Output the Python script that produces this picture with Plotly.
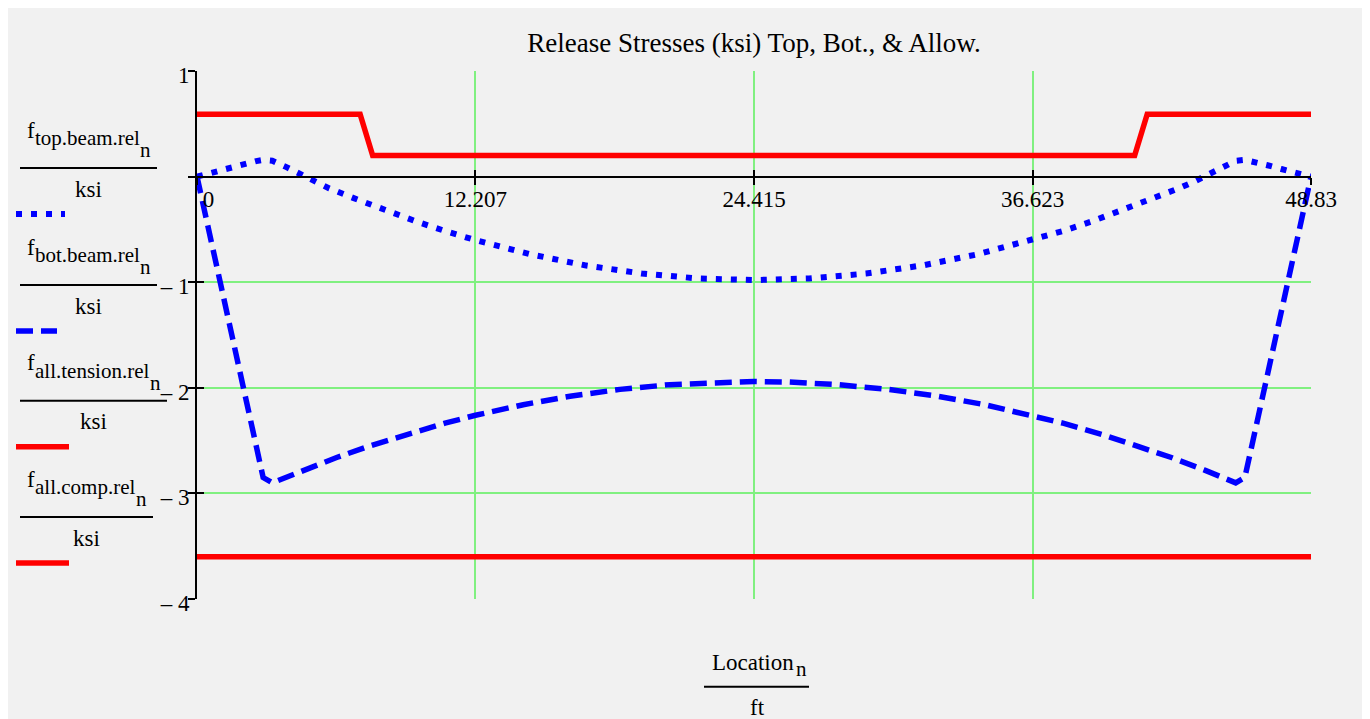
import plotly.graph_objects as go

# ---------------- data ----------------
x_top = [0, 0.65, 1.3, 1.95, 2.6, 2.9, 3.3, 3.9, 4.5, 5.1, 5.8, 7.0, 8.3, 9.6, 10.9, 12.207,
         14.6, 17.0, 19.5, 22.0, 24.415,
         26.83, 29.33, 31.83, 34.23, 36.623, 37.93, 39.23, 40.53, 41.83, 43.03, 43.73,
         44.33, 44.93, 45.53, 45.93, 46.23, 46.88, 47.53, 48.18, 48.83]
f_top = [0, 0.04, 0.072, 0.11, 0.147, 0.158, 0.15, 0.092, 0.024, -0.045, -0.112, -0.215,
         -0.322, -0.424, -0.517, -0.602, -0.735, -0.84, -0.918, -0.965, -0.98,
         -0.965, -0.918, -0.84, -0.735, -0.602, -0.517, -0.424, -0.322, -0.215, -0.112,
         -0.045, 0.024, 0.092, 0.15, 0.158, 0.147, 0.11, 0.072, 0.04, 0]

x_bot = [0, 2.9, 3.3, 4.66, 6.12, 7.44, 9.04, 10.87, 12.207, 14.3, 16.35, 18.54, 20.73,
         22.93, 24.415, 25.90, 28.10, 30.29, 32.48, 34.53, 36.623, 37.96, 39.79, 41.39,
         42.71, 44.17, 45.53, 45.93, 48.83]
f_bot = [0, -2.85, -2.9, -2.78, -2.66, -2.56, -2.45, -2.335, -2.26, -2.16, -2.08, -2.015,
         -1.97, -1.945, -1.94, -1.945, -1.97, -2.015, -2.08, -2.16, -2.26, -2.335, -2.45,
         -2.56, -2.66, -2.78, -2.9, -2.85, 0]

x_ten = [0, 7.15, 7.7, 41.1, 41.65, 48.83]
f_ten = [0.59, 0.59, 0.2, 0.2, 0.59, 0.59]

x_comp = [0, 48.83]
f_comp = [-3.6, -3.6]

x_ticks = [0, 12.207, 24.415, 36.623, 48.83]
x_ticktext = ["\u00a0\u00a0\u00a0\u00a00", "12.207", "24.415", "36.623", "48.83"]
y_ticks = [-4, -3, -2, -1, 0, 1]
y_ticktext = ["\u2013 4", "\u2013 3", "\u2013 2", "\u2013 1", "", "1"]

legend_subs = ["top.beam.rel", "bot.beam.rel", "all.tension.rel", "all.comp.rel"]
title_text = "Release Stresses (ksi) Top, Bot., & Allow."

# ---------------- layout helpers ----------------
W, H = 1370, 719
OFF = 8                       # page body margin
L, R, T, B = 197, 1311, 71, 599   # plot area in screenshot pixels
FONT = "Liberation Serif"
GRID = "#80f080"
BG = "#f1f1f1"
X_RANGE = [0, 48.83]
Y_RANGE = [-4, 1]


def PX(px):
    return (px - L) / (R - L)


def PY(py):
    return (B - py) / (B - T)


DOT = "6px,9px"
DASH = "17px,8px"

fig = go.Figure()
fig.add_trace(go.Scatter(x=x_top, y=f_top, mode="lines",
                         line=dict(color="#0000ff", width=6, dash=DOT)))
fig.add_trace(go.Scatter(x=x_bot, y=f_bot, mode="lines",
                         line=dict(color="#0000ff", width=5.5, dash=DASH)))
fig.add_trace(go.Scatter(x=x_ten, y=f_ten, mode="lines",
                         line=dict(color="#ff0000", width=5.5)))
# drawn on the overlay axes (same ranges) so that the inner half of the ticks shows
fig.add_trace(go.Scatter(x=x_comp, y=f_comp, mode="lines", xaxis="x2", yaxis="y2",
                         line=dict(color="#ff0000", width=5.5)))

annotations = []
shapes = []

bar_y = [168, 285, 400.7, 517]
bar_x1 = [157, 157, 167, 153]
samples = [("#0000ff", DOT, 65, 6), ("#0000ff", DASH, 57, 5.5),
           ("#ff0000", "solid", 69, 5.5), ("#ff0000", "solid", 69, 5.5)]
FS = 23
SS = 21
for sub, by, bx1, (col, dsh, sx1, lw) in zip(legend_subs, bar_y, bar_x1, samples):
    annotations.append(dict(text="f", x=PX(25), y=PY(by - 30 - 0.34 * FS), xref="paper",
                            yref="paper", xanchor="left", yanchor="middle", showarrow=False,
                            font=dict(family=FONT, size=FS, color="black")))
    annotations.append(dict(text=sub, x=PX(33), y=PY(by - 23 - 0.34 * SS), xref="paper",
                            yref="paper", xanchor="left", yanchor="middle", showarrow=False,
                            font=dict(family=FONT, size=SS, color="black")))
    annotations.append(dict(text="n", x=PX(bx1 - 4), y=PY(by - 11 - 0.34 * SS), xref="paper",
                            yref="paper", xanchor="right", yanchor="middle", showarrow=False,
                            font=dict(family=FONT, size=SS, color="black")))
    annotations.append(dict(text="ksi", x=PX((20 + bx1) / 2), y=PY(by + 29 - 0.34 * FS),
                            xref="paper", yref="paper", xanchor="center", yanchor="middle",
                            showarrow=False, font=dict(family=FONT, size=FS, color="black")))
    shapes.append(dict(type="line", xref="paper", yref="paper", x0=PX(20), x1=PX(bx1),
                       y0=PY(by), y1=PY(by), line=dict(color="black", width=2)))
    shapes.append(dict(type="line", xref="paper", yref="paper", x0=PX(16), x1=PX(sx1),
                       y0=PY(by + 46), y1=PY(by + 46), line=dict(color=col, width=lw, dash=dsh)))

# x axis title as fraction
annotations.append(dict(text="Location", x=PX(710), y=PY(670 - 0.34 * FS), xref="paper",
                        yref="paper", xanchor="left", yanchor="middle", showarrow=False,
                        font=dict(family=FONT, size=FS, color="black")))
annotations.append(dict(text="n", x=PX(794), y=PY(676 - 0.34 * SS), xref="paper",
                        yref="paper", xanchor="left", yanchor="middle", showarrow=False,
                        font=dict(family=FONT, size=SS, color="black")))
annotations.append(dict(text="ft", x=PX(757), y=PY(715 - 0.34 * FS), xref="paper",
                        yref="paper", xanchor="center", yanchor="middle", showarrow=False,
                        font=dict(family=FONT, size=FS, color="black")))
shapes.append(dict(type="line", xref="paper", yref="paper", x0=PX(704), x1=PX(809),
                   y0=PY(686.7), y1=PY(686.7), line=dict(color="black", width=2)))

fig.update_layout(
    width=W, height=H,
    margin=dict(l=L - OFF, r=W - (R - OFF), t=T - OFF, b=H - (B - OFF), pad=0),
    paper_bgcolor=BG, plot_bgcolor=BG,
    showlegend=False,
    title=dict(text=title_text, x=0.5, xref="paper", xanchor="center",
               y=1 - (43 - OFF) / H, yref="container", yanchor="middle",
               font=dict(family=FONT, size=27, color="black")),
    xaxis=dict(range=X_RANGE, tickvals=x_ticks, ticktext=x_ticktext,
               showgrid=True, gridcolor=GRID, gridwidth=1.5, zeroline=False,
               showline=True, linecolor="black", linewidth=2,
               ticks="outside", ticklen=7, tickwidth=2, tickcolor="black",
               ticklabelstandoff=-5,
               anchor="free", position=0.8,
               tickfont=dict(family=FONT, size=23, color="black")),
    yaxis=dict(range=Y_RANGE, tickvals=y_ticks, ticktext=y_ticktext, domain=[0, 1],
               showgrid=True, gridcolor=GRID, gridwidth=1.5, zeroline=False,
               showline=True, linecolor="black", linewidth=2,
               ticks="outside", ticklen=7, tickwidth=2, tickcolor="black",
               ticklabelstandoff=-6, ticklabelshift=4,
               tickfont=dict(family=FONT, size=23, color="black")),
    xaxis2=dict(range=X_RANGE, tickvals=x_ticks, overlaying="x", anchor="free",
                position=0.8, side="bottom", showgrid=False, zeroline=False,
                showline=False, showticklabels=False,
                ticks="inside", ticklen=7, tickwidth=2, tickcolor="black"),
    yaxis2=dict(range=Y_RANGE, tickvals=y_ticks, overlaying="y", anchor="x2", side="left",
                showgrid=False, zeroline=False, showline=False, showticklabels=False,
                ticks="inside", ticklen=7, tickwidth=2, tickcolor="black"),
    annotations=annotations,
    shapes=shapes,
)

fig.write_html("out.html")
